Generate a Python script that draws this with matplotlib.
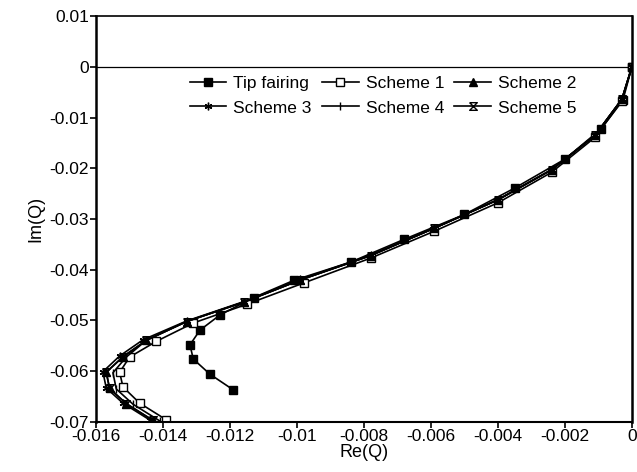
import matplotlib.pyplot as plt
from matplotlib.path import Path

plt.rcParams["font.family"] = ["Liberation Sans", "DejaVu Sans"]

# Tip fairing (filled squares)
tip_re = [0.0, -0.00027, -0.00093, -0.0020, -0.0035, -0.0050, -0.0068, -0.0084,
          -0.0101, -0.0113, -0.0123, -0.0129, -0.0132, -0.0131, -0.0126, -0.0119]
tip_im = [0.0, -0.0066, -0.0123, -0.0182, -0.0239, -0.0291, -0.0340, -0.0385,
          -0.0421, -0.0455, -0.0489, -0.0519, -0.0548, -0.0576, -0.0606, -0.0637]

# Scheme 1 (open squares)
s1_re = [0.0, -0.0003, -0.0011, -0.0024, -0.0040, -0.0059, -0.0078, -0.0098, -0.0115,
         -0.0131, -0.0142, -0.0150, -0.0153, -0.0152, -0.0147, -0.0139]
s1_im = [0.0, -0.0067, -0.0139, -0.0208, -0.0268, -0.0324, -0.0377, -0.0426, -0.0468,
         -0.0505, -0.0541, -0.0572, -0.0602, -0.0631, -0.0663, -0.0696]

# Schemes 2-5
s2_re = [0.0, -0.0003, -0.0011, -0.0024, -0.0040, -0.0059, -0.0078, -0.0099, -0.0116,
         -0.0133, -0.0145, -0.0152, -0.0157, -0.0156, -0.0151, -0.0143]
s2_im = [0.0, -0.0064, -0.0135, -0.0203, -0.0262, -0.0318, -0.0372, -0.0420, -0.0464,
         -0.0502, -0.0539, -0.0571, -0.0602, -0.0634, -0.0664, -0.0697]
s3_re = [0.0, -0.0003, -0.0011, -0.0024, -0.0040, -0.0059, -0.0078, -0.0099, -0.0116,
         -0.0133, -0.0146, -0.0153, -0.0158, -0.0157, -0.0152, -0.0144]
s3_im = [0.0, -0.0064, -0.0135, -0.0203, -0.0262, -0.0318, -0.0371, -0.0419, -0.0463,
         -0.0501, -0.0538, -0.0570, -0.0601, -0.0633, -0.0663, -0.0696]
s4_re = [0.0, -0.0003, -0.0011, -0.0024, -0.0040, -0.0059, -0.0078, -0.0099, -0.0116,
         -0.0133, -0.0145, -0.0151, -0.0155, -0.0154, -0.0149, -0.0141]
s4_im = [0.0, -0.0064, -0.0135, -0.0203, -0.0262, -0.0318, -0.0372, -0.0420, -0.0464,
         -0.0502, -0.0539, -0.0572, -0.0603, -0.0635, -0.0665, -0.0698]
s5_re = [0.0, -0.0003, -0.0011, -0.0024, -0.0040, -0.0059, -0.0078, -0.0099, -0.0116,
         -0.0133, -0.0145, -0.0152, -0.0157, -0.0156, -0.0151, -0.0143]
s5_im = [0.0, -0.0064, -0.0135, -0.0203, -0.0262, -0.0318, -0.0372, -0.0420, -0.0464,
         -0.0502, -0.0539, -0.0572, -0.0602, -0.0634, -0.0664, -0.0697]

# hourglass outline marker for scheme 5
hourglass = Path([(-1, 1), (1, 1), (-1, -1), (1, -1), (-1, 1)],
                 [Path.MOVETO, Path.LINETO, Path.LINETO, Path.LINETO, Path.LINETO])

fig = plt.figure(figsize=(6.37, 4.72), dpi=100)
ax = fig.add_axes([0.151, 0.106, 0.841, 0.860])

ax.axhline(0, color="black", lw=0.9)

kw = dict(color="black", lw=1.2, markersize=5.5)
l_tip, = ax.plot(tip_re, tip_im, marker="s", label="Tip fairing", **kw)
l_s1, = ax.plot(s1_re, s1_im, marker="s", mfc="white", label="Scheme 1", **kw)
l_s2, = ax.plot(s2_re, s2_im, marker="^", label="Scheme 2", **kw)
l_s3, = ax.plot(s3_re, s3_im, marker=(6, 2, 0), label="Scheme 3", **kw)
l_s4, = ax.plot(s4_re, s4_im, marker="|", label="Scheme 4", markeredgewidth=1.0, **kw)
l_s5, = ax.plot(s5_re, s5_im, marker=hourglass, mfc="none", label="Scheme 5", **kw)

ax.set_xlim(-0.016, 0)
ax.set_ylim(-0.07, 0.01)
ax.set_xticks([-0.016, -0.014, -0.012, -0.01, -0.008, -0.006, -0.004, -0.002, 0])
ax.set_xticklabels(["-0.016", "-0.014", "-0.012", "-0.01", "-0.008", "-0.006", "-0.004", "-0.002", "0"])
ax.set_yticks([0.01, 0, -0.01, -0.02, -0.03, -0.04, -0.05, -0.06, -0.07])
ax.set_yticklabels(["0.01", "0", "-0.01", "-0.02", "-0.03", "-0.04", "-0.05", "-0.06", "-0.07"])
ax.tick_params(direction="out", length=4, width=1.2, labelsize=12.5, pad=1)
ax.spines["left"].set_linewidth(1.8)
ax.spines["bottom"].set_linewidth(1.5)
ax.spines["right"].set_linewidth(1.8)
ax.spines["top"].set_linewidth(1.2)

ax.set_xlabel("Re(Q)", fontsize=13, labelpad=0)
ax.set_ylabel("Im(Q)", fontsize=13, labelpad=4)

# row-wise order: Tip, S1, S2 / S3, S4, S5
handles = [l_tip, l_s3, l_s1, l_s4, l_s2, l_s5]
ax.legend(handles, [h.get_label() for h in handles], ncol=3, frameon=False,
          fontsize=12.5, loc="center left", bbox_to_anchor=(0.175, 0.804),
          handlelength=2.1, columnspacing=0.6, handletextpad=0.4,
          labelspacing=0.55, borderpad=0, borderaxespad=0)

fig.savefig("out.png", dpi=100)
